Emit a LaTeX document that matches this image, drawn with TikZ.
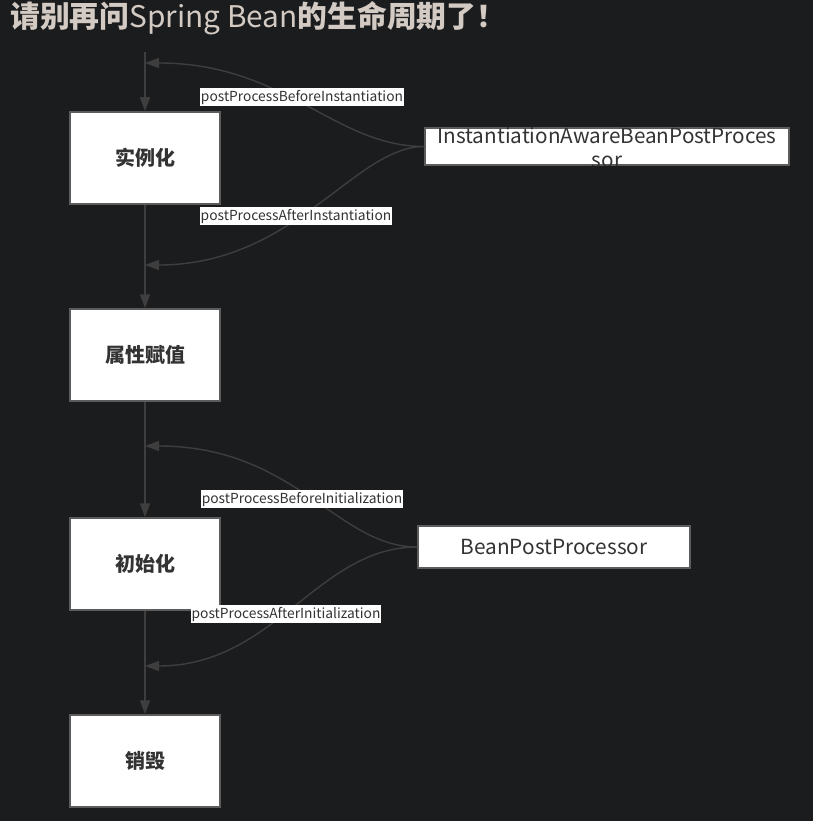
\documentclass[tikz,border=0pt]{standalone}
\usepackage{fontspec}
\setmainfont{Noto Sans CJK SC}
\usetikzlibrary{arrows.meta}

\definecolor{bgdark}{HTML}{1B1C1E}
\definecolor{titlegray}{HTML}{D3CBC3}
\definecolor{linegray}{HTML}{3E3E3E}
\definecolor{boxgray}{HTML}{5C5C5C}
\definecolor{textdark}{HTML}{333333}

\tikzset{
  stage/.style={draw=boxgray, line width=1.5pt, fill=white, text=textdark,
    minimum width=150pt, minimum height=92pt, inner sep=0pt,
    font=\bfseries\fontsize{20}{20}\selectfont},
  processor/.style={draw=boxgray, line width=1.5pt, fill=white, inner sep=0pt},
  hookname/.style={fill=white, text=textdark, inner xsep=1pt, inner ysep=1.5pt,
    font=\fontsize{13.8}{13.8}\selectfont},
  flow/.style={draw=linegray, line width=1.6pt, -{Triangle[length=14pt,width=10pt]}},
  hook/.style={draw=linegray, line width=1.4pt, -{Triangle[length=14pt,width=10pt]}},
}

\begin{document}
\begin{tikzpicture}[x=1pt, y=-1pt]
  % Define parameters
  \def\chainX{145}    % x of the vertical chain
  \def\width{813}     % picture width
  \def\height{821}    % picture height

  % Background
  \fill[bgdark] (0,0) rectangle (\width,\height);
  \useasboundingbox (0,0) rectangle (\width,\height);

  % Title
  \node[anchor=base west, inner sep=0pt, text=titlegray, font=\fontsize{29.8}{30}\selectfont]
    (title) at (10,28) {{\bfseries 请别再问}Spring Bean{\bfseries 的生命周期了！}};

  % Draw stages
  \foreach \stageName/\stageY/\stageText in {inst/158/实例化, attr/355/属性赋值, init/564/初始化, dest/761/销毁} {
    \node[stage] (\stageName) at (\chainX, \stageY) {\stageText};
  }

  % Draw processors
  \node[processor, minimum width=364pt, minimum height=37pt] (iabpp) at (607,146.5) {};
  \begin{scope}
    \clip (iabpp.south west) rectangle (iabpp.north east);
    \node[anchor=north, inner sep=0pt, text=textdark, align=center, font=\fontsize{20.7}{24}\selectfont]
      (iabppName) at (607,127) {InstantiationAwareBeanPostProces\\sor};
  \end{scope}
  \node[processor, minimum width=272pt, minimum height=42pt, text=textdark, font=\fontsize{20.8}{20.8}\selectfont]
    (bpp) at (554,547) {BeanPostProcessor};

  % Draw the chain
  \coordinate (start) at (\chainX, 52);
  \draw[flow] (start) -- (inst);
  \foreach \from/\to in {inst/attr, attr/init, init/dest} {
    \draw[flow] (\from) -- (\to);
  }

  % Draw the hooks
  \coordinate (hitBI) at (\chainX, 63);
  \coordinate (hitAI) at (\chainX, 265);
  \coordinate (hitBN) at (\chainX, 446);
  \coordinate (hitAN) at (\chainX, 666);
  \draw[hook] (iabpp.west) .. controls +(-90,0) and +(140,0) .. (hitBI);
  \draw[hook] (iabpp.west) .. controls +(-70,0) and +(150,0) .. (hitAI);
  \draw[hook] (bpp.west) .. controls +(-80,0) and +(150,0) .. (hitBN);
  \draw[hook] (bpp.west) .. controls +(-100,0) and +(130,0) .. (hitAN);

  % Hook names
  \node[hookname] (nameBI) at (302,97) {postProcessBeforeInstantiation};
  \node[hookname] (nameAI) at (296,216) {postProcessAfterInstantiation};
  \node[hookname] (nameBN) at (302,499) {postProcessBeforeInitialization};
  \node[hookname] (nameAN) at (286,614) {postProcessAfterInitialization};
\end{tikzpicture}
\end{document}
